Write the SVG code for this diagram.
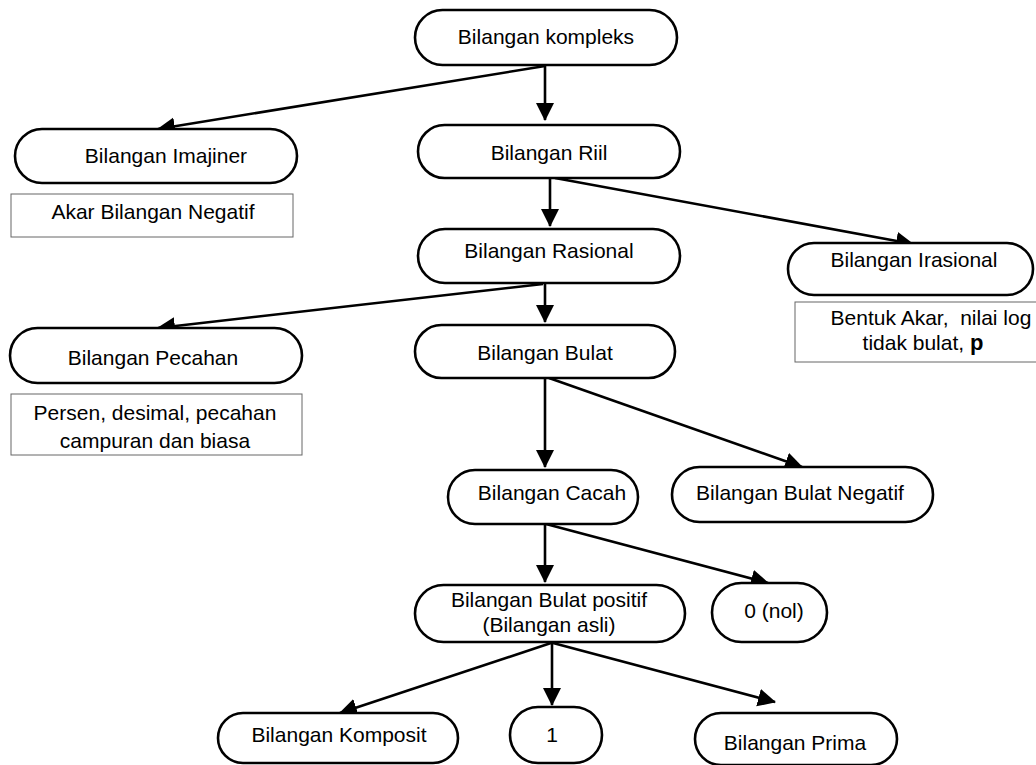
<svg xmlns="http://www.w3.org/2000/svg" width="1036" height="765" viewBox="0 0 1036 765">
<defs>
<marker id="ah" markerUnits="userSpaceOnUse" markerWidth="20" markerHeight="20" refX="17" refY="9" orient="auto">
<path d="M0,0 L18,9 L0,18 Z" fill="#000"/>
</marker>
<style>
.n{fill:#fff;stroke:#000;stroke-width:2.6}
.b{fill:#fff;stroke:#666;stroke-width:1}
text{font-family:"Liberation Sans",Arial,sans-serif;font-size:21px;fill:#000;text-anchor:middle}
.c line{stroke:#000;stroke-width:2.6;marker-end:url(#ah)}
</style>
</defs>
<rect width="1036" height="765" fill="#fff"/>
<g class="c" id="connectors">
<line x1="545" y1="65" x2="545" y2="120"/>
<line x1="545" y1="66" x2="158" y2="129"/>
<line x1="550" y1="178" x2="550" y2="226"/>
<line x1="555" y1="178" x2="913" y2="244"/>
<line x1="545" y1="283" x2="545" y2="322"/>
<line x1="543" y1="284" x2="158" y2="328"/>
<line x1="545" y1="378" x2="545" y2="467"/>
<line x1="549" y1="378" x2="802" y2="467"/>
<line x1="545" y1="524" x2="545" y2="582"/>
<line x1="546" y1="524" x2="768" y2="583"/>
<line x1="552" y1="642" x2="552" y2="705"/>
<line x1="551" y1="643" x2="340" y2="713"/>
<line x1="553" y1="643" x2="775" y2="702"/>
</g>
<g id="kompleks"><rect class="n" x="415" y="10" width="262" height="55" rx="27.5"/><text x="546" y="44">Bilangan kompleks</text></g>
<g id="imajiner"><rect class="n" x="15" y="129" width="282" height="54" rx="27"/><text x="166" y="163">Bilangan Imajiner</text></g>
<g id="akar"><rect class="b" x="11" y="194" width="282" height="43"/><text x="153" y="219">Akar Bilangan Negatif</text></g>
<g id="riil"><rect class="n" x="418" y="125" width="262" height="53" rx="26.5"/><text x="549" y="160">Bilangan Riil</text></g>
<g id="rasional"><rect class="n" x="418" y="229" width="262" height="54" rx="27"/><text x="549" y="258">Bilangan Rasional</text></g>
<g id="irasional"><rect class="n" x="788" y="243" width="245" height="52" rx="26"/><text x="914" y="267">Bilangan Irasional</text></g>
<g id="bentuk"><rect class="b" x="795" y="302" width="260" height="60"/><text x="931" y="325" xml:space="preserve">Bentuk Akar,  nilai log</text><text x="923" y="350">tidak bulat, <tspan font-size="22" font-weight="bold">p</tspan></text></g>
<g id="pecahan"><rect class="n" x="10" y="328" width="292" height="55" rx="27.5"/><text x="153" y="365">Bilangan Pecahan</text></g>
<g id="persen"><rect class="b" x="11" y="394" width="291" height="61"/><text x="155" y="420">Persen, desimal, pecahan</text><text x="155" y="448">campuran dan biasa</text></g>
<g id="bulat"><rect class="n" x="415" y="325" width="260" height="53" rx="26.5"/><text x="545" y="360">Bilangan Bulat</text></g>
<g id="cacah"><rect class="n" x="448" y="470" width="190" height="54" rx="27"/><text x="552" y="500">Bilangan Cacah</text></g>
<g id="negatif"><rect class="n" x="672" y="467" width="261" height="55" rx="27.5"/><text x="800" y="500">Bilangan Bulat Negatif</text></g>
<g id="positif"><rect class="n" x="415" y="585" width="270" height="57" rx="28.5"/><text x="549" y="607">Bilangan Bulat positif</text><text x="549" y="632">(Bilangan asli)</text></g>
<g id="nol"><rect class="n" x="712" y="583" width="115" height="59" rx="29.5"/><text x="774" y="618">0 (nol)</text></g>
<g id="komposit"><rect class="n" x="218" y="713" width="240" height="50" rx="25"/><text x="339" y="742">Bilangan Komposit</text></g>
<g id="satu"><rect class="n" x="510" y="707" width="92" height="56" rx="28"/><text x="552" y="742">1</text></g>
<g id="prima"><rect class="n" x="695" y="713" width="202" height="52" rx="26"/><text x="795" y="750">Bilangan Prima</text></g>
</svg>
